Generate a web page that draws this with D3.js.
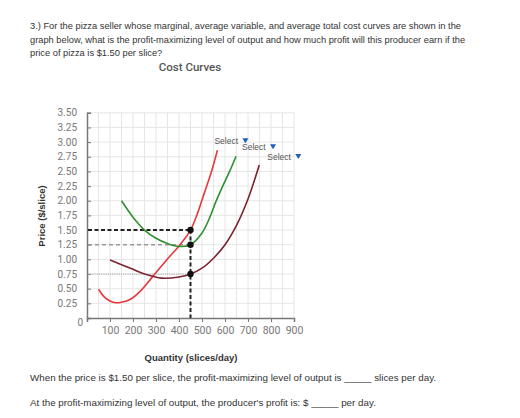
<!DOCTYPE html>
<html><head><meta charset="utf-8">
<script src="https://cdn.jsdelivr.net/npm/d3@7"></script>
<style>body{margin:0;background:#fff}svg{display:block}</style>
</head><body>
<script>
const questionLines = [
  "3.) For the pizza seller whose marginal, average variable, and average total cost curves are shown in the",
  "graph below, what is the profit-maximizing level of output and how much profit will this producer earn if the",
  "price of pizza is $1.50 per slice?"
];
const chartTitle = "Cost Curves";
const yTicks = [0.25,0.5,0.75,1,1.25,1.5,1.75,2,2.25,2.5,2.75,3,3.25,3.5];
const xTicks = [100,200,300,400,500,600,700,800,900];
const mcQ = [50,75,100,125,150,185,230,280,346,400,450,480,510,540,567];
const mcP = [0.49,0.36,0.29,0.26,0.27,0.31,0.45,0.68,0.99,1.23,1.5,1.78,2.13,2.48,2.86];
const atcQ = [150,200,250,300,350,400,450,500,530,560,590,620,648];
const atcP = [2.0,1.72,1.5,1.36,1.27,1.22,1.25,1.45,1.68,1.98,2.25,2.5,2.76];
const avcQ = [100,150,200,250,325,400,450,500,550,600,650,700,749];
const avcP = [0.99,0.91,0.83,0.75,0.68,0.7,0.75,0.85,1.02,1.25,1.58,2.03,2.61];
const curveColors = ["#e8363d","#2f8f2f","#7b2330"];
const qStar = 450;
const refPrices = [1.5,1.25,0.75];
const answerLines = [
  "When the price is $1.50 per slice, the profit-maximizing level of output is _____ slices per day.",
  "At the profit-maximizing level of output, the producer's profit is: $ _____  per day."
];

const svg = d3.select("body").append("svg").attr("width",520).attr("height",418);
const font = "'Liberation Sans', Arial, sans-serif";

svg.selectAll("text.q").data(questionLines).enter().append("text")
  .attr("x",30).attr("y",(d,i)=>29+i*13.5).attr("font-family",font).attr("font-size",9.3)
  .attr("fill","#333").text(d=>d);
svg.append("text").attr("x",190).attr("y",71).attr("text-anchor","middle")
  .attr("font-family","Roboto, sans-serif").attr("font-weight",500).attr("font-size",11.5)
  .attr("fill","#555").text(chartTitle);

const x = d3.scaleLinear().domain([0,900]).range([87,294]);
const y = d3.scaleLinear().domain([0,3.5]).range([318,112.8]);

// grid
const g = svg.append("g");
g.selectAll("line.v").data(d3.range(50,901,50)).enter().append("line")
  .attr("x1",d=>x(d)).attr("x2",d=>x(d)).attr("y1",y(0)).attr("y2",y(3.5))
  .attr("stroke","#e6e6e6").attr("stroke-width",1);
g.selectAll("line.h").data(yTicks).enter().append("line")
  .attr("x1",x(0)).attr("x2",x(900)).attr("y1",d=>y(d)).attr("y2",d=>y(d))
  .attr("stroke","#e6e6e6").attr("stroke-width",1);

// axes
const yAxis = svg.append("g").attr("transform",`translate(${x(0)},0)`)
  .call(d3.axisRight(y).tickValues(yTicks).tickSize(4).tickFormat(""));
yAxis.select(".domain").attr("stroke","#777").attr("stroke-width",1.5);
yAxis.selectAll(".tick line").attr("stroke","#777");
svg.selectAll("text.yl").data(yTicks).enter().append("text")
  .attr("x",77).attr("y",d=>y(d)+3.6).attr("text-anchor","end")
  .attr("font-family","Roboto, sans-serif").attr("font-size",10).attr("fill","#777")
  .text(d=>d3.format(".2f")(d));
svg.append("text").attr("x",83).attr("y",326).attr("text-anchor","end")
  .attr("font-family","Roboto, sans-serif").attr("font-size",10).attr("fill","#777").text("0");

const xAxis = svg.append("g").attr("transform",`translate(0,${y(0)})`)
  .call(d3.axisBottom(x).tickValues(xTicks).tickSize(4).tickFormat(d=>d));
xAxis.select(".domain").attr("stroke","#777").attr("stroke-width",1.5);
xAxis.selectAll(".tick line").attr("stroke","#777");
xAxis.selectAll(".tick text").attr("font-family","Roboto, sans-serif").attr("font-size",10.5)
  .attr("fill","#777").attr("dy","0.9em");

svg.append("text").attr("transform","translate(45,216) rotate(-90)").attr("text-anchor","middle")
  .attr("font-family",font).attr("font-weight","bold").attr("font-size",9.5).attr("fill","#333")
  .text("Price ($/slice)");
svg.append("text").attr("x",191).attr("y",361).attr("text-anchor","middle")
  .attr("font-family",font).attr("font-weight","bold").attr("font-size",9.5).attr("fill","#333")
  .text("Quantity (slices/day)");

// reference lines
const styles = [
  {c:"#222",w:2,d:"4,2.5"},
  {c:"#999",w:1.5,d:"4,3"},
  {c:"#aaa",w:1.2,d:"1,1.2"}
];
refPrices.forEach((p,i)=>{
  svg.append("line").attr("x1",x(0)+1).attr("x2",x(qStar)).attr("y1",y(p)).attr("y2",y(p))
    .attr("stroke",styles[i].c).attr("stroke-width",styles[i].w).attr("stroke-dasharray",styles[i].d);
});
svg.append("line").attr("x1",x(qStar)).attr("x2",x(qStar)).attr("y1",y(refPrices[0])).attr("y2",y(0))
  .attr("stroke","#222").attr("stroke-width",2).attr("stroke-dasharray","4,2.5");

// curves
const line = d3.line().x(d=>x(d[0])).y(d=>y(d[1])).curve(d3.curveCatmullRom.alpha(0.5));
const series = [[mcQ,mcP],[atcQ,atcP],[avcQ,avcP]];
series.forEach((s,i)=>{
  const pts = s[0].map((q,j)=>[q,s[1][j]]);
  svg.append("path").attr("d",line(pts)).attr("fill","none")
    .attr("stroke",curveColors[i]).attr("stroke-width",1.6);
});

// points
svg.selectAll("circle.pt").data(refPrices).enter().append("circle")
  .attr("cx",x(qStar)).attr("cy",d=>y(d)).attr("r",3.2).attr("fill","#111");

// select labels
const offs = [[-3,-6],[6,-6],[8,-5]];
series.forEach((s,i)=>{
  const q = s[0][s[0].length-1], p = s[1][s[1].length-1];
  const lx = x(q)+offs[i][0], ly = y(p)+offs[i][1];
  svg.append("text").attr("x",lx).attr("y",ly).attr("font-family",font)
    .attr("font-size",8.5).attr("fill","#555").text("Select");
  const tx = lx+28, ty = ly-6;
  svg.append("path").attr("d",`M${tx},${ty}L${tx+6},${ty}L${tx+3},${ty+5}Z`).attr("fill","#1f5fbf");
});

svg.selectAll("text.a").data(answerLines).enter().append("text")
  .attr("x",30).attr("y",(d,i)=>381+i*25).attr("font-family",font).attr("font-size",9.8)
  .attr("fill","#333").text(d=>d);
</script>
</body></html>
